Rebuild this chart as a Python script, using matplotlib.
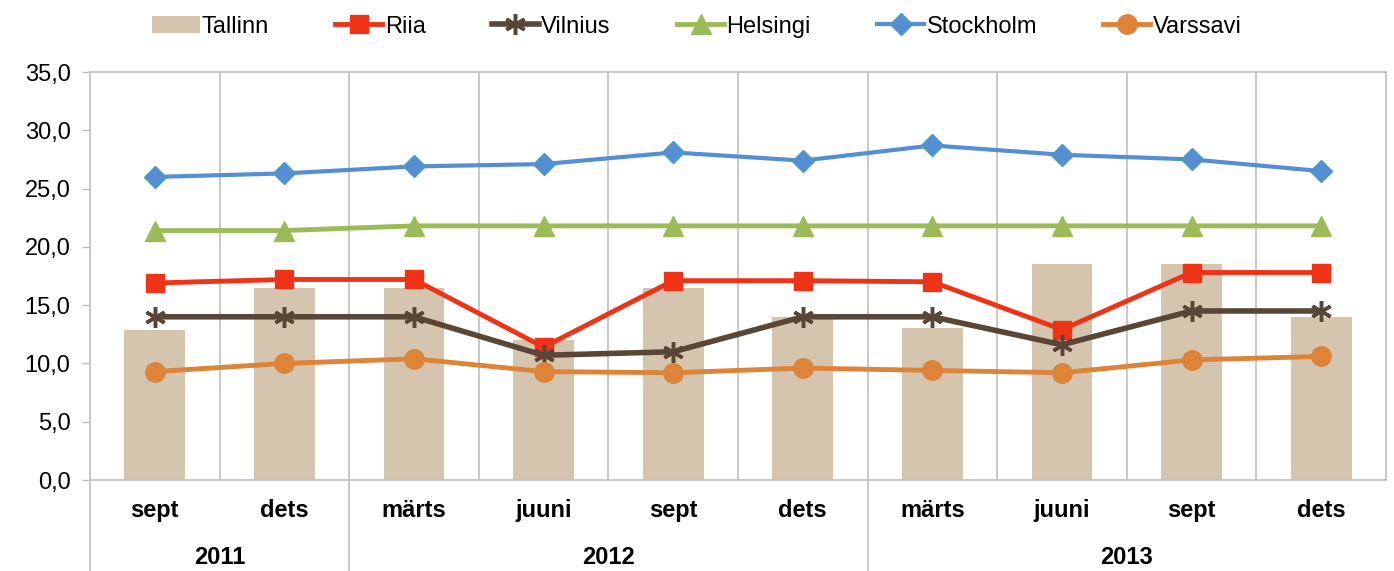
import matplotlib
matplotlib.use('Agg')
from matplotlib import pyplot as plt
from matplotlib import transforms as mtransforms

months = ['sept', 'dets', 'märts', 'juuni', 'sept', 'dets', 'märts', 'juuni', 'sept', 'dets']
years = ['2011', '2012', '2013']
year_spans = [(0, 1), (2, 5), (6, 9)]

tallinn = [12.9, 16.5, 16.5, 12.0, 16.5, 14.0, 13.0, 18.5, 18.5, 14.0]
riia = [16.9, 17.2, 17.2, 11.4, 17.1, 17.1, 17.0, 12.9, 17.8, 17.8]
vilnius = [14.0, 14.0, 14.0, 10.7, 11.0, 14.0, 14.0, 11.6, 14.5, 14.5]
helsingi = [21.4, 21.4, 21.8, 21.8, 21.8, 21.8, 21.8, 21.8, 21.8, 21.8]
stockholm = [26.0, 26.3, 26.9, 27.1, 28.1, 27.4, 28.7, 27.9, 27.5, 26.5]
varssavi = [9.3, 10.0, 10.4, 9.3, 9.2, 9.6, 9.4, 9.2, 10.3, 10.6]

plt.rcParams['font.family'] = ['Liberation Sans', 'DejaVu Sans']
plt.rcParams['font.size'] = 17

grid_color = '#BFBFBF'

fig = plt.figure(figsize=(13.94, 5.71), dpi=100)
ax = fig.add_axes([90 / 1394, 91 / 571, 1296 / 1394, 408 / 571])

x = list(range(len(months)))
ax.bar(x, tallinn, width=0.47, color='#D5C4AE', label='Tallinn', zorder=2)
ax.plot(x, riia, color='#EE3317', lw=3.5, marker='s', ms=12.5, label='Riia', zorder=4)
ax.plot(x, vilnius, color='#5A4636', lw=4, marker=(6, 2, 0), ms=15, mew=2.5,
        label='Vilnius', zorder=4)
ax.plot(x, helsingi, color='#9BBB59', lw=3.5, marker='^', ms=15, label='Helsingi', zorder=3)
ax.plot(x, stockholm, color='#558ED5', lw=3, marker='D', ms=11, mec='#4A9BB8', mew=1,
        label='Stockholm', zorder=3)
ax.plot(x, varssavi, color='#DD8439', lw=3.5, marker='o', ms=14, label='Varssavi', zorder=4)

ax.set_xlim(-0.5, len(months) - 0.5)
ax.set_ylim(0, 35)
ax.set_yticks(range(0, 36, 5))
ax.set_yticklabels([f'{v:.1f}'.replace('.', ',') for v in range(0, 36, 5)])
ax.tick_params(axis='y', length=6, width=1, color=grid_color, pad=8)
ax.set_xticks(x)
ax.set_xticklabels(months, fontweight='bold')
ax.tick_params(axis='x', length=0, pad=14)

for s in ax.spines.values():
    s.set_color(grid_color)
    s.set_linewidth(1.2)

for b in range(1, len(months)):
    ax.axvline(b - 0.5, color=grid_color, lw=1.2, zorder=1)

trans = mtransforms.blended_transform_factory(ax.transData, ax.transAxes)
for bx in [-0.5, 1.5, 5.5]:
    ax.plot([bx, bx], [0, -0.25], transform=trans, color=grid_color, lw=1.2, clip_on=False)
for yr, (a, b) in zip(years, year_spans):
    ax.text((a + b) / 2, -0.19, yr, transform=trans, ha='center', va='center',
            fontweight='bold')

handles, labels = ax.get_legend_handles_labels()
order = [labels.index(n) for n in ['Tallinn', 'Riia', 'Vilnius', 'Helsingi', 'Stockholm', 'Varssavi']]
fig.legend([handles[i] for i in order], [labels[i] for i in order],
           loc='upper center', bbox_to_anchor=(0.5, 1.01), ncol=6, frameon=False,
           handlelength=2.0, columnspacing=2.8, handletextpad=0.1)

fig.savefig('out.png', dpi=100)
